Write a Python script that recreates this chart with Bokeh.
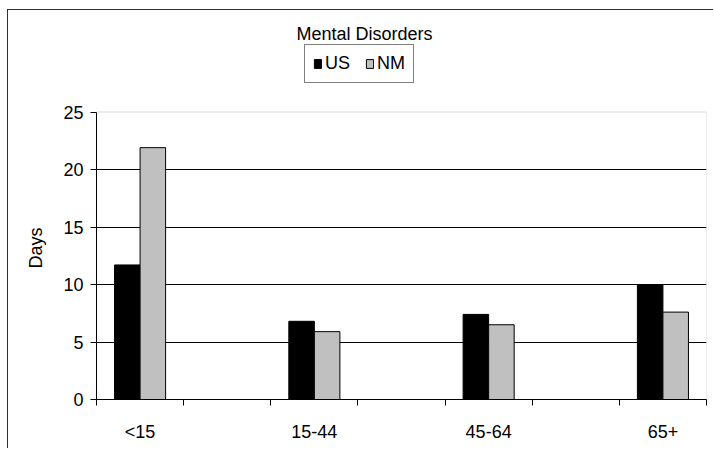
from bokeh.plotting import figure
from bokeh.models import (FixedTicker, Label, Legend, LegendItem, Range1d,
                          ColumnDataSource, BoxAnnotation, Title)
from bokeh.transform import dodge
from bokeh.embed import file_html
from bokeh.resources import INLINE

# ---- data ----
categories = ["<15", "15-44", "45-64", "65+"]
us_days = [11.7, 6.8, 7.4, 10.0]
nm_days = [21.9, 5.9, 6.5, 7.6]
y_ticks = [0, 5, 10, 15, 20, 25]
series_names = ["US", "NM"]

FONT = "Liberation Sans"
FS = "18px"

# 7 category slots (groups separated by empty slots, as in the original)
n_slots = 2 * len(categories) - 1
xs = [2 * i + 0.5 for i in range(len(categories))]

src = ColumnDataSource(dict(x=xs, cat=categories, us=us_days, nm=nm_days))

# frame spans from just under the chart border down to the x axis;
# the value axis itself only covers 0..25
y_max_axis = y_ticks[-1]
frame_px = 389 - 2          # frame height in px
axis_px = 287.5             # px used by 0..25
y_top = y_max_axis * frame_px / axis_px

p = figure(width=706, height=439, output_backend="svg", toolbar_location=None,
           x_range=Range1d(0, n_slots), y_range=Range1d(0, y_top),
           min_border_left=88, min_border_right=8, min_border_top=2,
           min_border_bottom=50)
p.styles = {"border-top": "1px solid #303030", "border-left": "1px solid #303030",
            "margin-left": "7px", "margin-top": "9px"}
p.background_fill_color = "white"
p.border_fill_color = "white"
p.outline_line_color = None

bw = 0.293
r_us = p.vbar(x=dodge("x", -bw / 2, range=p.x_range), top="us", width=bw,
              bottom=0, source=src, fill_color="black", line_color="black",
              line_width=1)
r_nm = p.vbar(x=dodge("x", bw / 2, range=p.x_range), top="nm", width=bw,
              bottom=0, source=src, fill_color="#C0C0C0", line_color="black",
              line_width=1)

# plot-area border (grey top and right edges)
p.add_layout(BoxAnnotation(left=0, right=n_slots, bottom=0, top=y_max_axis,
                           fill_color=None, line_color="#808080", line_width=1,
                           level="underlay"))

# x axis: labels at group centres, tick marks at slot boundaries
xa = p.xaxis[0]
xa.ticker = FixedTicker(ticks=xs, minor_ticks=list(range(0, n_slots + 1)))
xa.major_label_overrides = {x: c for x, c in zip(xs, categories)}
xa.major_tick_out = 0
xa.major_tick_in = 0
xa.minor_tick_out = 6
xa.minor_tick_in = 0
xa.minor_tick_line_color = "black"
xa.axis_line_color = "black"
xa.major_label_text_font = FONT
xa.major_label_text_font_size = FS
xa.major_label_text_color = "black"
xa.major_label_standoff = 16

ya = p.yaxis[0]
ya.ticker = FixedTicker(ticks=y_ticks)
ya.bounds = (0, y_max_axis)
ya.major_tick_out = 6
ya.major_tick_in = 0
ya.minor_tick_line_color = None
ya.axis_line_color = "black"
ya.major_tick_line_color = "black"
ya.major_label_text_font = FONT
ya.major_label_text_font_size = FS
ya.major_label_text_color = "black"
ya.major_label_standoff = 7

# value-axis title, centred on the 0..25 part of the axis
p.add_layout(Title(text="Days", align="left", offset=131, standoff=29,
                   text_font=FONT, text_font_size=FS, text_font_style="normal",
                   text_color="black"), "left")

p.xgrid.visible = False
p.ygrid[0].ticker = FixedTicker(ticks=y_ticks[1:-1])
p.ygrid[0].grid_line_color = "black"
p.ygrid[0].grid_line_width = 1

title = Label(x=3.076, y=31.74, text="Mental Disorders", text_align="center",
              text_baseline="middle", text_font=FONT, text_font_size=FS,
              text_color="black")
p.add_layout(title)

legend = Legend(items=[LegendItem(label=series_names[0], renderers=[r_us]),
                       LegendItem(label=series_names[1], renderers=[r_nm])],
                orientation="horizontal", location=(208, 316),
                border_line_color="black", border_line_width=1,
                background_fill_color="white", background_fill_alpha=1,
                padding=8, spacing=15, glyph_width=9, glyph_height=11,
                label_standoff=3, margin=0,
                label_text_font=FONT, label_text_font_size=FS,
                label_text_color="black")
p.add_layout(legend)

open("out.html", "w").write(file_html(p, INLINE))
